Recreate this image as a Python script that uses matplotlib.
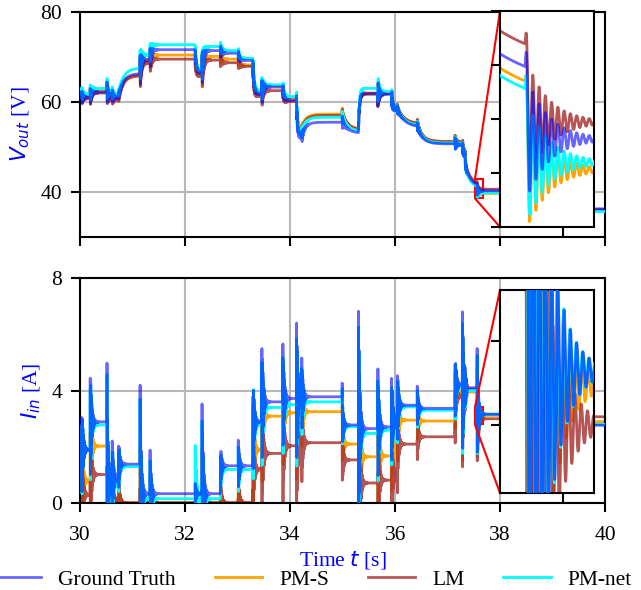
import numpy as np
import matplotlib
matplotlib.use("Agg")
import matplotlib.pyplot as plt
from mpl_toolkits.axes_grid1.inset_locator import mark_inset

# load-step event times [s]
T_EVENTS = [30.03, 30.19, 30.51, 30.61, 30.73, 31.14, 31.33, 32.19, 32.32, 32.67,
            33.01, 33.29, 33.46, 33.86, 34.12, 34.22, 34.99, 35.30, 35.67, 35.93,
            36.04, 36.42, 37.14, 37.28, 37.33, 37.37, 37.56, 39.30]

# output voltage levels after each event [V]
V_START = [61.0, 61.3, 60.8, 61.8]
V_GT = [61.0, 62.2, 61.3, 61.0, 66.3, 69.3, 71.6, 66.5, 71.4, 70.8, 69.2, 61.8, 63.3, 60.4,
        52.0, 55.5, 53.0, 61.9, 61.7, 58.3, 54.3, 50.7, 50.5, 48.0, 44.3, 41.22, 40.31, 36.3]
V_PMS = [61.3, 62.6, 61.5, 61.2, 66.0, 69.0, 70.4, 66.2, 70.1, 69.5, 68.2, 62.0, 63.6, 60.8,
         53.5, 57.3, 53.8, 62.0, 62.0, 58.6, 55.0, 51.2, 51.0, 48.6, 44.0, 40.93, 39.71, 36.0]
V_LM = [60.8, 62.0, 60.8, 60.5, 65.8, 68.6, 69.5, 65.8, 69.3, 68.7, 67.9, 61.3, 62.5, 60.1,
        53.0, 57.0, 53.8, 61.7, 61.9, 58.6, 55.0, 51.2, 51.0, 48.6, 44.8, 41.65, 40.64, 36.1]
V_NET = [61.8, 63.0, 62.0, 61.6, 67.5, 70.4, 72.7, 67.0, 72.3, 71.4, 69.7, 62.5, 63.8, 61.2,
         52.8, 56.6, 53.4, 63.0, 62.3, 58.4, 54.6, 50.9, 50.6, 48.2, 43.9, 40.78, 39.86, 35.7]
V_TAU = [0.02, 0.03, 0.02, 0.02, 0.09, 0.02, 0.03, 0.02, 0.03, 0.02, 0.02, 0.02, 0.02, 0.02,
         0.02, 0.07, 0.12, 0.02, 0.02, 0.02, 0.15, 0.10, 0.03, 0.02, 0.015, 0.10, 0.002, 0.02]
V_RING = [1.5, 2.0, 2.5, 1.5, 1.0, 4.0, 2.5, -1.5, 4.0, -1.5, -1.2, -2.0, 3.0, -1.5,
          2.0, 1.5, 1.5, 1.2, -3.0, -2.0, 1.0, 1.0, 1.5, -1.5, 1.0, 0.0, 1.3, 2.0]

# input current levels after each event [A]
I_START = [1.0, 0.3, 0.1, 1.0]
I_GT = [1.9, 2.89, 0.8, 0.9, 1.39, 0.34, 0.34, 0.34, 0.34, 1.33, 1.33, 2.9, 3.6, 3.72,
        3.8, 3.78, 2.78, 2.65, 2.71, 2.9, 3.48, 3.37, 4.2, 4.1, 4.1, 4.1, 3.16, 2.77]
I_PMS = [0.8, 2.03, 0.05, 0.05, 0.02, 0.02, 0.02, 0.02, 0.02, 0.02, 0.02, 1.9, 3.09, 3.21,
         3.25, 3.25, 2.1, 1.65, 1.68, 2.0, 2.95, 2.92, 3.95, 3.9, 3.95, 3.95, 3.12, 2.9]
I_LM = [0.3, 1.02, 0.05, 0.05, 0.02, 0.02, 0.02, 0.02, 0.02, 0.02, 0.02, 1.2, 1.77, 2.04,
        2.1, 2.15, 1.54, 0.72, 0.82, 1.0, 2.1, 2.36, 3.8, 4.0, 4.05, 4.05, 3.0, 3.07]
I_NET = [1.9, 2.78, 0.6, 0.7, 1.3, 0.16, 0.16, 0.16, 0.16, 1.2, 1.2, 2.8, 3.4, 3.5,
         3.6, 3.6, 2.72, 2.48, 2.6, 2.8, 3.42, 3.3, 4.15, 4.0, 4.0, 4.0, 3.16, 2.8]
I_RING = [1.8, 2.3, 3.3, 1.5, 1.0, 3.6, 1.7, 0.4, 3.5, 0.9, 1.0, 1.9, 2.5, 2.2,
          2.9, 1.5, 1.0, 4.5, 2.3, 1.8, 1.5, 0.8, 1.3, 2.9, 0.8, 0.0, 2.0, 1.0]
I_RING_NET = [1.8, 2.3, 3.3, 1.5, 1.0, 3.6, 1.7, 2.4, 3.5, 0.9, 1.0, 2.1, 2.5, 2.2,
              2.9, 1.5, 1.0, 4.6, 2.3, 1.8, 1.5, 0.8, 1.3, 2.9, 0.8, 0.0, 2.0, 3.0]
I_TAU = 0.004

RING_F = 100.0      # converter ringing frequency [Hz]
V_RING_TAU = 0.035  # ringing decay of the voltage [s]
I_RING_TAU = 0.026  # ringing decay of the current [s]
I_PHASE = [0.0, 0.9, 1.7, 0.4]  # current ringing phase per model [rad]

LABELS = ["Ground Truth", "PM-S", "LM", "PM-net"]
COLORS = ["blue", "orange", "brown", "cyan"]
ALPHAS = [0.6, 1.0, 0.8, 1.0]
ZORDERS = [4, 1, 2, 3]


def step_response(t, start, levels, taus, rings, ring_tau, phase=0.0):
    """Piecewise first-order settling with damped ringing at each event."""
    y = np.full_like(t, start)
    cur = start
    for k, tk in enumerate(T_EVENTS):
        end = T_EVENTS[k + 1] if k + 1 < len(T_EVENTS) else t[-1] + 1
        tau = taus[k] if np.ndim(taus) else taus
        m = (t >= tk) & (t < end)
        dt = t[m] - tk
        ring = np.sin(2 * np.pi * RING_F * dt + phase) - np.sin(phase) * np.exp(-dt / 0.002)
        y[m] = (levels[k] + (cur - levels[k]) * np.exp(-dt / tau)
                + rings[k] * np.exp(-dt / ring_tau) * ring)
        cur = levels[k] + (cur - levels[k]) * np.exp(-(end - tk) / tau)
    return y


plt.rcParams["font.family"] = ["Liberation Serif", "DejaVu Serif"]
plt.rcParams["mathtext.fontset"] = "dejavusans"
plt.rcParams["font.size"] = 15.5

t = np.arange(30.0, 40.0001, 0.0004)
v_series = [step_response(t, s, lv, V_TAU, V_RING, V_RING_TAU)
            for s, lv in zip(V_START, [V_GT, V_PMS, V_LM, V_NET])]
i_rings = [I_RING, I_RING, I_RING, I_RING_NET]
i_series = [step_response(t, s, lv, I_TAU, r, I_RING_TAU, ph)
            for s, lv, r, ph in zip(I_START, [I_GT, I_PMS, I_LM, I_NET], i_rings, I_PHASE)]

fig = plt.figure(figsize=(6.41, 5.9), dpi=100)
ax1 = fig.add_axes([0.125, 0.598, 0.819, 0.382])
ax2 = fig.add_axes([0.125, 0.147, 0.819, 0.382], sharex=ax1)
ins1 = fig.add_axes([0.780, 0.6153, 0.1466, 0.366])
ins2 = fig.add_axes([0.780, 0.1644, 0.1466, 0.344])

handles = []
sel = (t > 37.45) & (t < 37.75)
for k in range(4):
    style = dict(color=COLORS[k], alpha=ALPHAS[k], lw=2.0, zorder=ZORDERS[k])
    h, = ax1.plot(t, v_series[k], **style)
    ax2.plot(t, i_series[k], **style)
    ins1.plot(t[sel], v_series[k][sel], **style)
    ins2.plot(t[sel], i_series[k][sel], **style)
    handles.append(h)

ax1.set_xlim(30, 40)
ax1.set_ylim(30, 80)
ax1.set_yticks([40, 60, 80])
ax2.set_ylim(0, 8)
ax2.set_yticks([0, 4, 8])
ax2.set_xticks([30, 32, 34, 36, 38, 40])
ax1.tick_params(labelbottom=False)
ax1.set_ylabel("$V_{out}$ [V]", color="blue", labelpad=6)
ax2.set_ylabel("$I_{in}$ [A]", color="blue", labelpad=6)
ax2.set_xlabel("Time $t$ [s]", color="blue", labelpad=2.5)

for ax in (ax1, ax2):
    ax.grid(True, color="#b8b8b8", lw=1.5)
    ax.set_axisbelow(True)
    ax.tick_params(direction="out", length=6.5, width=1.5)
    ax.tick_params(axis="x", pad=10)
    ax.tick_params(axis="y", pad=6.5)
    for sp in ax.spines.values():
        sp.set_linewidth(1.5)

ins1.set_xlim(37.52, 37.67)
ins1.set_ylim(38.6, 42.8)
ins1.set_yticks(np.linspace(38.6, 42.8, 5))
ins2.set_xlim(37.52, 37.67)
ins2.set_ylim(2.80, 3.40)
ins2.set_yticks([3.0, 3.25])
for ins in (ins1, ins2):
    ins.set_xticks([37.62])
    ins.set_xticklabels([])
    ins.set_yticklabels([])
    ins.set_facecolor("white")
    ins.tick_params(direction="out", length=6.5, width=1.5)
    for sp in ins.spines.values():
        sp.set_linewidth(1.5)

mark_inset(ax1, ins1, loc1=2, loc2=3, fc="none", ec="red", lw=1.5)
mark_inset(ax2, ins2, loc1=2, loc2=3, fc="none", ec="red", lw=1.5)

fig.legend(handles, LABELS, loc="center", bbox_to_anchor=(0.488, 0.017), ncol=4,
           frameon=False, handlelength=2.2, handletextpad=0.8, columnspacing=1.8)

fig.savefig("out.png", dpi=100)
